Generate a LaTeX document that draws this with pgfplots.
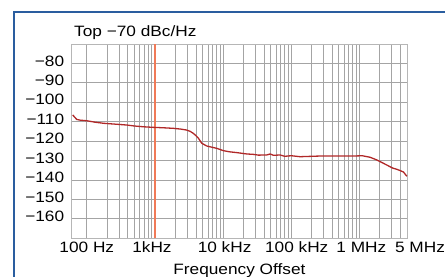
\documentclass[border=0pt]{standalone}
\usepackage{pgfplots}
\pgfplotsset{compat=1.18}
\usepackage{fontspec}
\setmainfont[FakeStretch=1.15]{Liberation Sans}
\definecolor{framebl}{HTML}{2A5D9F}
\definecolor{curvered}{HTML}{B02828}
\definecolor{markor}{HTML}{F07A58}
\definecolor{gridg}{HTML}{A4A4A4}
\begin{document}
\begin{tikzpicture}[x=1bp,y=1bp,font=\fontsize{15bp}{18bp}\selectfont]
\useasboundingbox (0,0) rectangle (445,276);
\draw[framebl,line width=2bp] (14.3,-20) -- (14.3,264.2) -- (470,264.2);
\begin{axis}[
  at={(71.7bp,37.7bp)}, anchor=south west,
  scale only axis, width=335.3bp, height=194.3bp,
  xmode=log, xmin=60, xmax=5e6, ymin=-170, ymax=-70,
  axis line style={gridg!80, line width=0.9bp},
  major tick length=0pt, minor tick length=0pt,
  xtick={100,1000,10000,100000,1000000},
  xticklabels={{100 Hz},{\kern-6bp 1kHz},{\kern3bp 10 kHz},{\kern11bp 100 kHz},{\kern4bp 1 MHz}},
  extra x ticks={5e6},
  extra x tick labels={\kern26bp 5 MHz},
  extra x tick style={grid=none},
  minor xtick={200,300,400,500,600,700,800,900,2000,3000,4000,5000,6000,7000,8000,9000,20000,30000,40000,50000,60000,70000,80000,90000,200000,300000,400000,500000,600000,700000,800000,900000,2000000,3000000,4000000},
  ytick={-160,-150,-140,-130,-120,-110,-100,-90,-80},
  yticklabels={−160,−150,−140,−130,−120,−110,−100,−90,−80},
  yticklabel style={xshift=-4bp, yshift=2.5bp},
  xmajorgrids, xminorgrids, ymajorgrids,
  major grid style={gridg, line width=0.9bp},
  minor grid style={gridg, line width=0.9bp},
  clip=false,
]
\addplot[markor, line width=1.3bp, forget plot] coordinates {(1000,-170) (1000,-70)};
\addplot[curvered, line width=1.3bp, no marks] coordinates {
(62,-106.5) (71,-108.8) (80,-109.2) (100,-109.5) (130,-110.2) (175,-110.8)
(250,-111.2) (385,-111.7) (500,-112.2) (675,-112.6) (947,-112.9) (1300,-113.1)
(1862,-113.4) (2400,-113.8) (2930,-114.3) (3300,-115) (3660,-116) (4000,-117.2)
(4340,-118.5) (4870,-121.1) (5760,-122.5) (7000,-123.2) (8070,-123.7) (10100,-124.9)
(12500,-125.5) (15900,-125.9) (22300,-126.6) (27900,-126.8) (33000,-127.2) (43800,-127.1)
(49000,-126.6) (55000,-127.3) (68700,-127.1) (80000,-127.8) (100000,-127.5) (135000,-128)
(200000,-127.8) (297000,-127.6) (500000,-127.6) (919000,-127.6) (1.1e6,-127.5) (1.44e6,-128.3)
(1.81e6,-129.7) (2.53e6,-132.3) (3.1e6,-133.9) (3.55e6,-134.5) (4.0e6,-135.2) (4.44e6,-135.9) (4.98e6,-138.1)
};
\end{axis}
\node[anchor=base west, inner sep=0] at (74,240) {Top −70 dBc/Hz};
\node[anchor=base, inner sep=0] at (239.4,2) {Frequency Offset};
\end{tikzpicture}
\end{document}
